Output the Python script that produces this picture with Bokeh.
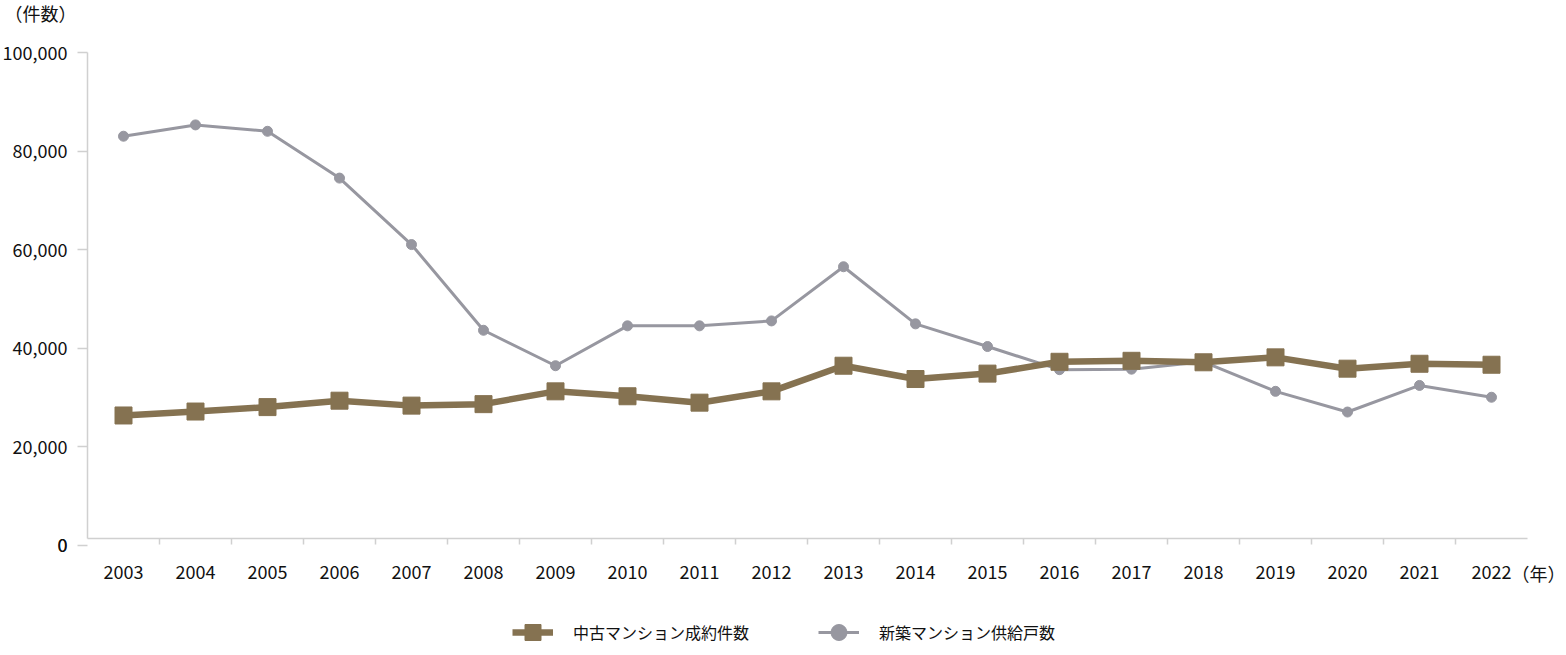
from bokeh.plotting import figure
from bokeh.models import (Range1d, FixedTicker, NumeralTickFormatter, Label,
                          Legend, LegendItem, ColumnDataSource)
from bokeh.embed import file_html
from bokeh.resources import INLINE

# ---- data ----
years = ["2003", "2004", "2005", "2006", "2007", "2008", "2009", "2010", "2011", "2012",
         "2013", "2014", "2015", "2016", "2017", "2018", "2019", "2020", "2021", "2022"]
used_contracts = [26300, 27100, 28000, 29300, 28300, 28600, 31200, 30200, 28900, 31200,
                  36400, 33700, 34800, 37200, 37400, 37100, 38100, 35800, 36800, 36600]
new_supply = [83000, 85300, 84000, 74500, 61000, 43600, 36400, 44500, 44500, 45500,
              56500, 44900, 40300, 35600, 35700, 37200, 31200, 27000, 32400, 30000]
y_ticks = [0, 20000, 40000, 60000, 80000, 100000]
series_names = ["中古マンション成約件数", "新築マンション供給戸数"]
y_unit = "（件数）"
x_unit = "（年）"

FONT = "Noto Sans CJK JP"
BROWN = "#857251"
GREY = "#9797a0"
AXIS = "#d0d0d0"
TXT = "#111111"

# ---- layout (pixels on the canvas) ----
W, H = 1566, 655
PX_LEFT, PX_RIGHT = 87, 1527          # plot area left / right
PX_TOP_VAL, PX_ZERO = 52, 544.5       # pixel of top tick value / of value 0
PX_AXIS = 538                         # pixel row of the category axis line
n = len(years)
xpx = (PX_RIGHT - PX_LEFT) / n
ypx = (PX_ZERO - PX_TOP_VAL) / y_ticks[-1]
x0 = -PX_LEFT / xpx
x1 = (W - PX_LEFT) / xpx
y_top = (PX_ZERO - 0) / ypx
y_bot = -(H - PX_ZERO) / ypx
axis_base = (PX_ZERO - PX_AXIS) / ypx

xpos = [i + 0.5 for i in range(n)]
src = ColumnDataSource(dict(x=xpos, used=used_contracts, new=new_supply))

p = figure(width=W, height=H, output_backend="svg", toolbar_location=None,
           x_range=Range1d(x0, x1), y_range=Range1d(y_bot, y_top),
           min_border=0, min_border_left=0, min_border_right=0,
           min_border_top=0, min_border_bottom=0)
p.outline_line_color = None
p.xgrid.visible = False
p.ygrid.visible = False

r_new_l = p.line("x", "new", source=src, line_color=GREY, line_width=3)
r_new_s = p.scatter("x", "new", source=src, marker="circle", size=10,
                    fill_color=GREY, line_color=GREY)
r_used_l = p.line("x", "used", source=src, line_color=BROWN, line_width=6.5)
r_used_s = p.scatter("x", "used", source=src, marker="square", size=17,
                     fill_color=BROWN, line_color=BROWN)

# x axis: labels at category centres, ticks between categories
xa = p.xaxis[0]
xa.fixed_location = axis_base
xa.bounds = (0, n)
xa.ticker = FixedTicker(ticks=xpos, minor_ticks=list(range(1, n)))
xa.major_label_overrides = {x: y for x, y in zip(xpos, years)}
xa.major_tick_out = 0
xa.major_tick_in = 0
xa.minor_tick_out = 6
xa.minor_tick_in = 0
xa.minor_tick_line_color = AXIS
xa.minor_tick_line_width = 1.5
xa.axis_line_color = AXIS
xa.axis_line_width = 1.5
xa.major_label_standoff = 20
xa.major_label_text_font = FONT
xa.major_label_text_font_size = "18px"
xa.major_label_text_color = TXT

ya = p.yaxis[0]
ya.fixed_location = 0
ya.bounds = (axis_base, y_ticks[-1])
ya.ticker = FixedTicker(ticks=y_ticks, minor_ticks=[])
ya.formatter = NumeralTickFormatter(format="0,0")
ya.major_tick_out = 10
ya.major_tick_in = 0
ya.major_tick_line_color = AXIS
ya.major_tick_line_width = 1.5
ya.axis_line_color = AXIS
ya.axis_line_width = 1.5
ya.major_label_standoff = 10
ya.major_label_text_font = FONT
ya.major_label_text_font_size = "18px"
ya.major_label_text_color = TXT

# the "0" tick label sits just below the category axis line
p.add_layout(Label(x=PX_LEFT - 20, x_units="screen", y=y_ticks[0], y_units="data",
                   text="0", text_align="right", text_baseline="middle", text_font=FONT,
                   text_font_size="18px", text_font_style="normal", text_color=TXT))

# unit labels
p.add_layout(Label(x=4, x_units="screen", y=H - 12, y_units="screen", text=y_unit,
                   text_align="left", text_baseline="middle", text_font=FONT,
                   text_font_size="18px", text_font_style="normal", text_color=TXT))
p.add_layout(Label(x=W - 1, x_units="screen", y=H - 572, y_units="screen", text=x_unit,
                   text_align="right", text_baseline="middle", text_font=FONT,
                   text_font_size="18px", text_font_style="normal", text_color=TXT))

legend = Legend(items=[LegendItem(label=series_names[0], renderers=[r_used_l, r_used_s]),
                       LegendItem(label=series_names[1], renderers=[r_new_l, r_new_s])],
                location=(512, 3), orientation="horizontal",
                glyph_width=41, glyph_height=40, label_standoff=20, spacing=69,
                padding=0, margin=0, border_line_color=None, background_fill_alpha=0,
                label_text_font=FONT, label_text_font_size="16px",
                label_text_color=TXT)
p.add_layout(legend, "center")

open("out.html", "w").write(file_html(p, INLINE))
